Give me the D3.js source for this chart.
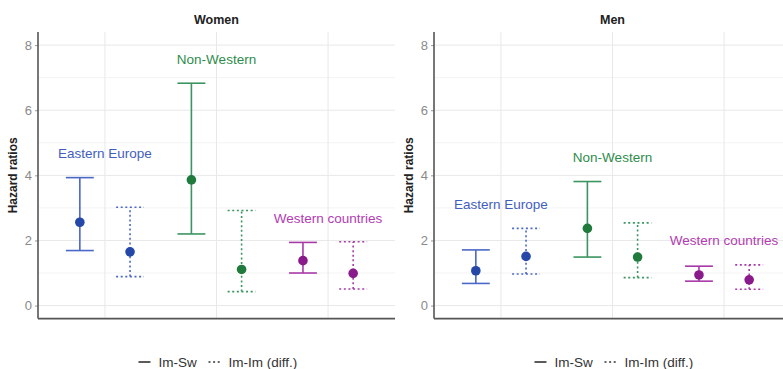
<!DOCTYPE html>
<html>
<head>
<meta charset="utf-8">
<script src="https://cdn.jsdelivr.net/npm/d3@7"></script>
<style>
  body { margin: 0; background: #fff; }
  svg { font-family: "Liberation Sans", Arial, sans-serif; }
</style>
</head>
<body>
<div id="chart"></div>
<script>
// categories and series
const categories = ["Eastern Europe", "Non-Western", "Western countries"];
const types = ["Im-Sw", "Im-Im (diff.)"];
const panels = ["Women", "Men"];

// hazard ratios, order: [category][type]
const womenEst   = [[2.56, 1.65], [3.86, 1.11], [1.38, 0.99]];
const womenLower = [[1.69, 0.89], [2.20, 0.43], [1.00, 0.51]];
const womenUpper = [[3.93, 3.02], [6.83, 2.92], [1.94, 1.96]];

const menEst   = [[1.07, 1.51], [2.37, 1.49], [0.94, 0.79]];
const menLower = [[0.68, 0.97], [1.49, 0.86], [0.75, 0.50]];
const menUpper = [[1.71, 2.37], [3.81, 2.54], [1.21, 1.25]];

// y value where each region label sits
const womenLabelY = [4.69, 7.55, 2.69];
const menLabelY   = [3.12, 4.56, 2.01];

const yTicks = [0, 2, 4, 6, 8];
const yMinor = [1, 3, 5, 7];

const lineColor  = ["#4a68c6", "#3a9560", "#a83aa8"];
const pointColor = ["#2447a8", "#1f7a3c", "#8a1a8c"];
const labelColor = ["#3f5ec0", "#2e8c4c", "#b23cb2"];

const width = 783, height = 369;
const svg = d3.select("#chart").append("svg")
    .attr("width", width)
    .attr("height", height);

const y = d3.scaleLinear().domain([-0.4, 8.4]).range([318.6, 32.1]);

function drawPanel(title, est, lower, upper, labelY, x0, x1) {
  const g = svg.append("g");
  const x = d3.scalePoint().domain(categories).range([x0, x1]).padding(0.6);
  const dodge = x.step() * 0.225;
  const cap = x.step() * 0.125;
  const cx = (c, t) => x(c) + (t === 0 ? -dodge : dodge);

  // grid
  g.selectAll(".minor").data(yMinor).enter().append("line")
      .attr("x1", x0).attr("x2", x1)
      .attr("y1", d => y(d)).attr("y2", d => y(d))
      .attr("stroke", "#f3f3f3").attr("stroke-width", 1);
  g.selectAll(".major").data(yTicks).enter().append("line")
      .attr("x1", x0).attr("x2", x1)
      .attr("y1", d => y(d)).attr("y2", d => y(d))
      .attr("stroke", "#e8e8e8").attr("stroke-width", 1);
  g.selectAll(".vgrid").data(categories).enter().append("line")
      .attr("x1", d => x(d)).attr("x2", d => x(d))
      .attr("y1", y.range()[0]).attr("y2", y.range()[1])
      .attr("stroke", "#e8e8e8").attr("stroke-width", 1);

  // y axis
  const ax = g.append("g")
      .attr("transform", "translate(" + x0 + ",0)")
      .call(d3.axisLeft(y).tickValues(yTicks).tickSize(3).tickPadding(3));
  ax.select(".domain").remove();
  ax.selectAll(".tick line").attr("stroke", "#999");
  ax.selectAll(".tick text").attr("fill", "#8a8a8a").attr("font-size", 13)
      .attr("font-family", "Liberation Sans, Arial, sans-serif");

  // axis lines
  g.append("line").attr("x1", x0).attr("x2", x0)
      .attr("y1", y.range()[1]).attr("y2", y.range()[0])
      .attr("stroke", "#555").attr("stroke-width", 1.6);
  g.append("line").attr("x1", x0).attr("x2", x1)
      .attr("y1", y.range()[0]).attr("y2", y.range()[0])
      .attr("stroke", "#555").attr("stroke-width", 1.6);

  // axis title
  g.append("text")
      .attr("transform", "translate(" + (x0 - 21) + "," + ((y.range()[0] + y.range()[1]) / 2) + ") rotate(-90)")
      .attr("text-anchor", "middle")
      .attr("font-size", 12).attr("font-weight", "bold").attr("fill", "#222")
      .text("Hazard ratios");

  // panel title
  g.append("text")
      .attr("x", (x0 + x1) / 2).attr("y", 24)
      .attr("text-anchor", "middle")
      .attr("font-size", 12.5).attr("font-weight", "bold").attr("fill", "#222")
      .text(title);

  // error bars
  const rows = [];
  categories.forEach((c, i) => types.forEach((t, j) => {
    rows.push({c: c, i: i, t: j, est: est[i][j], lo: lower[i][j], hi: upper[i][j]});
  }));

  const bars = g.selectAll(".bar").data(rows).enter().append("g");
  const dash = d => d.t === 1 ? "2,2.6" : null;
  bars.append("line")
      .attr("x1", d => cx(d.c, d.t)).attr("x2", d => cx(d.c, d.t))
      .attr("y1", d => y(d.lo)).attr("y2", d => y(d.hi))
      .attr("stroke", d => lineColor[d.i]).attr("stroke-width", 1.6)
      .attr("stroke-dasharray", dash);
  [d => d.lo, d => d.hi].forEach(acc => {
    bars.append("line")
        .attr("x1", d => cx(d.c, d.t) - cap).attr("x2", d => cx(d.c, d.t) + cap)
        .attr("y1", d => y(acc(d))).attr("y2", d => y(acc(d)))
        .attr("stroke", d => lineColor[d.i]).attr("stroke-width", 1.6)
        .attr("stroke-dasharray", dash);
  });
  bars.append("circle")
      .attr("cx", d => cx(d.c, d.t)).attr("cy", d => y(d.est))
      .attr("r", 4.8)
      .attr("fill", d => pointColor[d.i]);

  // region labels
  g.selectAll(".lab").data(categories).enter().append("text")
      .attr("x", d => x(d)).attr("y", (d, i) => y(labelY[i]))
      .attr("dy", "0.35em")
      .attr("text-anchor", "middle")
      .attr("font-size", 13.5)
      .attr("fill", (d, i) => labelColor[i])
      .text(d => d);

  // legend
  const lg = g.append("g")
      .attr("transform", "translate(" + ((x0 + x1) / 2 - 78) + ",362)");
  lg.append("line").attr("x1", 0).attr("x2", 12).attr("y1", 0).attr("y2", 0)
      .attr("stroke", "#333").attr("stroke-width", 1.6);
  lg.append("text").attr("x", 20).attr("y", 0).attr("dy", "0.35em")
      .attr("font-size", 13.5).attr("fill", "#333").text(types[0]);
  lg.append("line").attr("x1", 70).attr("x2", 82).attr("y1", 0).attr("y2", 0)
      .attr("stroke", "#333").attr("stroke-width", 1.6).attr("stroke-dasharray", "2,2.6");
  lg.append("text").attr("x", 90).attr("y", 0).attr("dy", "0.35em")
      .attr("font-size", 13.5).attr("fill", "#333").text(types[1]);
}

drawPanel(panels[0], womenEst, womenLower, womenUpper, womenLabelY, 38, 395);
drawPanel(panels[1], menEst, menLower, menUpper, menLabelY, 434, 791);
</script>
</body>
</html>
